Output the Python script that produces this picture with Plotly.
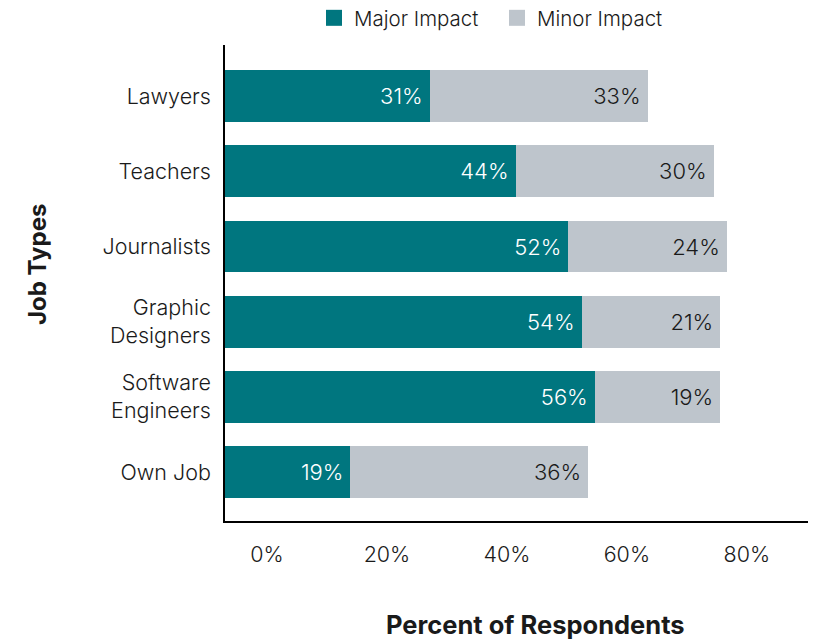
import plotly.graph_objects as go

# Survey results: share of respondents expecting AI impact on each job type
job_types = ["Own Job", "Software<br>Engineers", "Graphic<br>Designers",
             "Journalists", "Teachers", "Lawyers"]
major_impact = [19, 56, 54, 52, 44, 31]
minor_impact = [36, 19, 21, 24, 30, 33]
tick_values = [0, 20, 40, 60, 80]
tick_labels = ["0%", "20%", "40%", "60%", "80%"]

TEAL = "#00767f"
GREY = "#bec5cc"
FONT = "Inter"
TXT = "#1a1a1a"
PAD = "\u2009"

fig = go.Figure()

fig.add_trace(go.Bar(
    y=job_types, x=major_impact, orientation="h", name="Major Impact",
    marker=dict(color=TEAL, line=dict(width=0)),
    text=[f"{v}%{PAD}" for v in major_impact], textposition="inside",
    insidetextanchor="end", constraintext="none",
    textfont=dict(color="white", size=22, family=FONT, weight=300),
    showlegend=False, hoverinfo="skip",
))
fig.add_trace(go.Bar(
    y=job_types, x=minor_impact, orientation="h", name="Minor Impact",
    marker=dict(color=GREY, line=dict(width=0)),
    text=[f"{v}%{PAD}" for v in minor_impact], textposition="inside",
    insidetextanchor="end", constraintext="none",
    textfont=dict(color=TXT, size=22, family=FONT, weight=300),
    showlegend=False, hoverinfo="skip",
))

# Legend entries with larger square swatches
for name, color in [("Major Impact", TEAL), ("Minor Impact", GREY)]:
    fig.add_trace(go.Scatter(
        x=[None], y=[None], mode="markers", name=name,
        marker=dict(symbol="square", size=18, color=color),
    ))

# Percentage scale shown beneath the plot
fig.add_trace(go.Scatter(x=[None], y=[None], xaxis="x2", showlegend=False))

fig.update_layout(
    barmode="stack",
    bargap=0.31,
    width=813, height=639,
    margin=dict(l=225, r=5, t=45, b=118),
    paper_bgcolor="white", plot_bgcolor="white",
    font=dict(family=FONT, size=21, color=TXT, weight=300),
    xaxis=dict(
        range=[0, 88.3], showgrid=False, zeroline=False,
        showline=True, linecolor="black", linewidth=1.5,
        showticklabels=False, ticks="",
    ),
    xaxis2=dict(
        overlaying="x", side="bottom", anchor="y",
        range=[-7, 90.2], showgrid=False, zeroline=False, showline=False,
        tickvals=tick_values, ticktext=tick_labels, ticks="",
        ticklabelstandoff=18,
        tickfont=dict(size=21.5, family=FONT, color=TXT, weight=300),
    ),
    yaxis=dict(
        range=[-0.65, 5.68], showgrid=False, zeroline=False,
        showline=True, linecolor="black", linewidth=1.5,
        ticks="", ticklabelstandoff=8,
        tickfont=dict(size=21.5, family=FONT, color=TXT, weight=300),
    ),
    legend=dict(
        orientation="h", traceorder="normal",
        xref="container", yref="container",
        x=497 / 813, xanchor="center", y=1 - 18 / 639, yanchor="middle",
        font=dict(size=20.5, family=FONT, color=TXT, weight=300),
        entrywidth=138, entrywidthmode="pixels",
        itemsizing="trace", bgcolor="rgba(0,0,0,0)",
    ),
    annotations=[
        dict(text="<b>Percent of Respondents</b>", xref="paper", yref="paper",
             x=(535 - 225) / 583, y=-(624 - 521) / 476, xanchor="center",
             yanchor="middle", showarrow=False,
             font=dict(size=25.5, family=FONT, color=TXT, weight=700)),
        dict(text="<b>Job Types</b>", xref="paper", yref="paper",
             x=-(225 - 37) / 583, y=(521 - 265) / 476, xanchor="center",
             yanchor="middle", textangle=-90, showarrow=False,
             font=dict(size=24, family=FONT, color=TXT, weight=700)),
    ],
)

fig.write_html("out.html")
